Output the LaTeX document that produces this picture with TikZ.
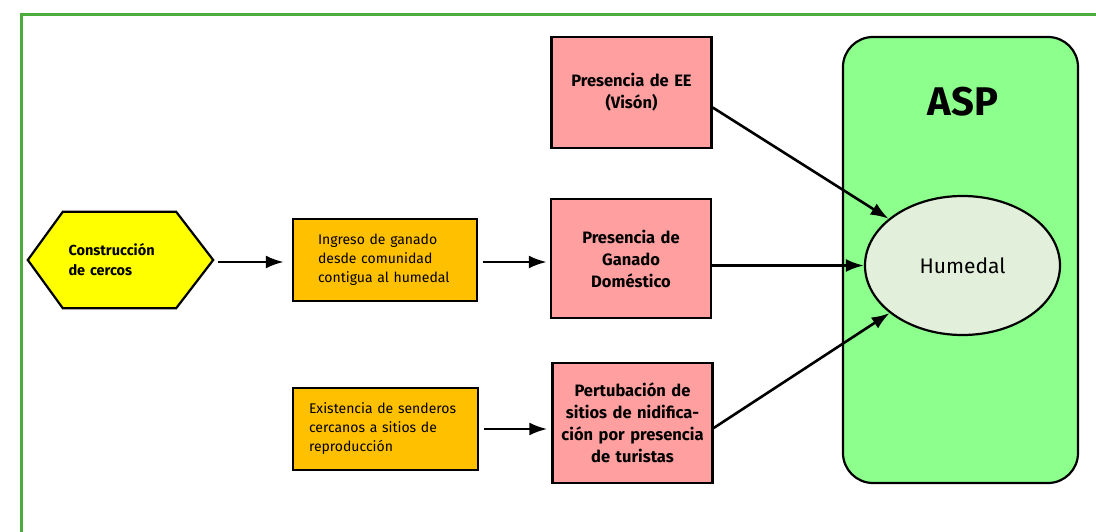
\documentclass[tikz,border=0pt]{standalone}
\usepackage{fontspec}
\setmainfont{Fira Sans}
\usetikzlibrary{calc}
\usetikzlibrary{shapes}
\usetikzlibrary{arrows.meta}
\usetikzlibrary{backgrounds}

\definecolor{marco}{RGB}{76,172,60}
\definecolor{amarillo}{RGB}{255,255,0}
\definecolor{naranjo}{RGB}{255,192,0}
\definecolor{rosado}{RGB}{255,159,159}
\definecolor{verdeasp}{RGB}{140,255,140}
\definecolor{verdehum}{RGB}{226,239,218}

\begin{document}
\begin{tikzpicture}[x=1pt,y=-1pt]
            \tikzstyle{causa} = [draw, fill=naranjo, line width=2.4pt, minimum height=82, align=left, font=\fontsize{14}{19}\selectfont]
            \tikzstyle{amenaza} = [draw, fill=rosado, line width=2.4pt, minimum width=160, text width=150, align=center, font=\bfseries\fontsize{16.5}{22}\selectfont]
            \tikzstyle{flecha} = [-{Latex[length=18pt,width=13pt]}, line width=2.6pt]
            \useasboundingbox (0,0) rectangle (1096,532);
            \clip (0,0) rectangle (1096,532);
            \draw [marco, line width=3pt] (21,15) rectangle (1120,560);

            \node (asp) [draw, fill=verdeasp, line width=2.2pt, rounded corners=30, minimum width=235, minimum height=446] at (960.5,260) {};
            \node (aspTit) at (963,102) [font=\bfseries\fontsize{40}{44}\selectfont] {ASP};
            \node (hum) [draw, ellipse, fill=verdehum, line width=2.2pt, inner sep=0, minimum width=195, minimum height=139, font=\fontsize{21}{24}\selectfont] at (962.5,265.5) {Humedal};

            \node (hex) [text width=104, align=left, minimum width=185, minimum height=96, font=\bfseries\fontsize{14.5}{20}\selectfont] at (120.5,260) {Construcción\\de cercos};
            \begin{pgfonlayer}{background}
                \draw [fill=amarillo, line width=2.2pt] (hex.west) -- ($(hex.north west)+(35,0)$) -- ($(hex.north east)+(-37,0)$) -- (hex.east) -- ($(hex.south east)+(-37,0)$) -- ($(hex.south west)+(35,0)$) -- cycle;
            \end{pgfonlayer}

            \node (ingreso) [causa, text width=134, inner xsep=25] at (385,260) {Ingreso de ganado\\desde comunidad\\contigua al humedal};
            \node (senderos) [causa, text width=153, inner xsep=16] at (385.5,429) {Existencia de senderos\\cercanos a sitios de\\reproducción};

            \node (vison) [amenaza, minimum height=111] at (631.5,92.5) {Presencia de EE\\(Visón)};
            \node (ganado) [amenaza, minimum height=119] at (631,258.5) {Presencia de\\Ganado\\Doméstico};
            \node (turistas) [amenaza, minimum height=120] at (632.5,423) {Pertubación de\\sitios de nidifica-\\ción por presencia\\de turistas};

            \draw ($(hex.east)+(0,2)$) edge[flecha, shorten <=5pt, shorten >=8pt] ($(ingreso.west)+(0,2)$);
            \draw ($(ingreso.east)+(0,2)$) edge[flecha, shorten <=5pt, shorten >=3pt] (ganado.west |- {$(ingreso.east)+(0,2)$});
            \draw (senderos.east) edge[flecha, shorten <=5pt, shorten >=4pt] (turistas.west |- senderos.east);
            \draw ($(vison.east)+(0,15)$) edge[flecha] (hum);
            \draw (ganado.east |- hum) edge[flecha] (hum.west);
            \draw ($(turistas.east)+(0,5)$) edge[flecha] (hum);
        \end{tikzpicture}
\end{document}
